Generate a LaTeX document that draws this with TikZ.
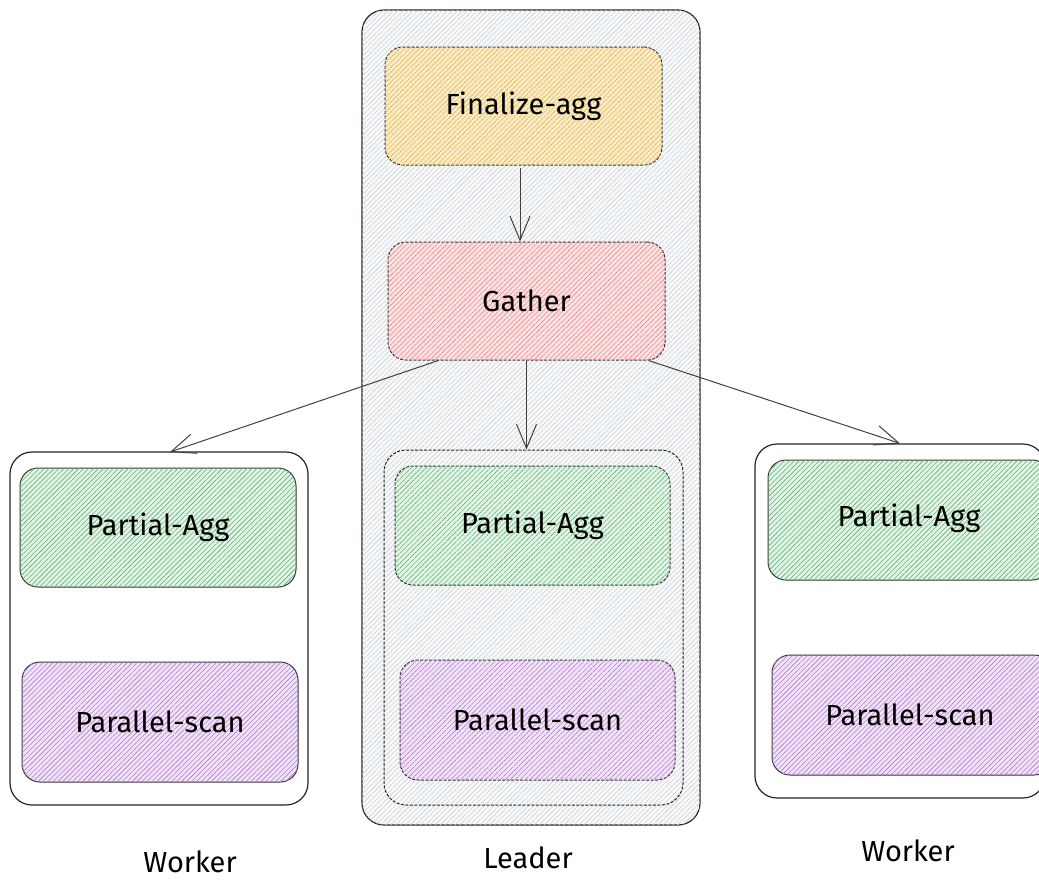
\documentclass[tikz,border=0pt]{standalone}
\usepackage{fontspec}
\setmainfont{Fira Sans}
\usetikzlibrary{patterns.meta,arrows.meta}
\definecolor{finfill}{HTML}{FAEBC8}
\definecolor{finline}{HTML}{E2B54A}
\definecolor{gatfill}{HTML}{FBE1E1}
\definecolor{gatline}{HTML}{E8868A}
\definecolor{aggfill}{HTML}{E3F3E5}
\definecolor{aggline}{HTML}{5DB474}
\definecolor{scanfill}{HTML}{F1E3F6}
\definecolor{scanline}{HTML}{B27AD0}
\definecolor{leadfill}{HTML}{F8F9FA}
\definecolor{leadline}{HTML}{CDD1D5}
\begin{document}
\begin{tikzpicture}[x=1pt,y=-1pt,
    hatch/.style 2 args={fill=#1,postaction={pattern={Lines[angle=45,distance=3.5pt,line width=0.6pt]},pattern color=#2}},
    stage/.style={draw=black!80,line width=1pt,rounded corners=18pt,inner sep=0pt,
        minimum width=276pt,minimum height=118pt,font=\fontsize{29}{34}\selectfont},
    holder/.style={draw=black!85,line width=1.2pt,rounded corners=22pt,inner sep=0pt},
    lbl/.style={font=\fontsize{29}{34}\selectfont},
    flow/.style={draw=black!75,line width=1pt,-{Straight Barb[length=24pt,width=20pt,line width=1pt]}},
    ]
    \useasboundingbox (0,0) rectangle (1039,879);
    \clip (0,0) rectangle (1039,879);
    % leader
    \node[holder,hatch={leadfill}{leadline},minimum width=338pt,minimum height=815pt] (leader) at (531,417.5) {};
    \node[holder,dash pattern=on 3pt off 1.5pt,line width=1pt,minimum width=299pt,minimum height=355pt] (inner) at (533.5,627.5) {};
    \node[stage,dash pattern=on 3pt off 1.5pt,hatch={finfill}{finline},minimum width=277pt] (fin) at (523.5,106) {Finalize-agg};
    \node[stage,dash pattern=on 3pt off 1.5pt,hatch={gatfill}{gatline},minimum width=277pt] (gather) at (526.5,301) {Gather};
    \node[stage,dash pattern=on 3pt off 1.5pt,hatch={aggfill}{aggline},minimum width=275pt,minimum height=119pt] (aggL) at (532.5,525.5) {Partial-Agg};
    \node[stage,dash pattern=on 3pt off 1.5pt,hatch={scanfill}{scanline},minimum width=275pt,minimum height=120pt] (scanL) at (537.5,720) {Parallel-scan};
    % workers
    \node[holder,fill=white,minimum width=298pt,minimum height=353pt] (left) at (159,628.5) {};
    \node[stage,hatch={aggfill}{aggline},minimum height=119pt] (aggA) at (158,527.5) {Partial-Agg};
    \node[stage,hatch={scanfill}{scanline},minimum height=120pt] (scanA) at (160,722) {Parallel-scan};
    \node[holder,fill=white,minimum width=290pt,minimum height=354pt] (right) at (900,621) {};
    \node[stage,hatch={aggfill}{aggline},minimum width=282pt,minimum height=120pt] (aggB) at (909,520) {};
    \node[lbl] at (909,518) {Partial-Agg};
    \node[stage,hatch={scanfill}{scanline},minimum width=280pt,minimum height=120pt] (scanB) at (912,715) {};
    \node[lbl] at (910,715) {Parallel-scan};
    % arrows
    \coordinate (finout) at (520,168);
    \coordinate (leftin) at (170,452);
    \draw[flow] (finout) -- (finout|-gather.north);
    \draw[flow] (gather.south) -- (gather.south|-inner.north);
    \draw[flow] (gather.-146) -- (leftin);
    \draw[flow] (gather.-26) -- (right.north);
    % labels
    \node[lbl] (wA) at (190,862) {Worker};
    \node[lbl] (ld) at (528,858) {Leader};
    \node[lbl] (wB) at (908,851) {Worker};
\end{tikzpicture}
\end{document}
